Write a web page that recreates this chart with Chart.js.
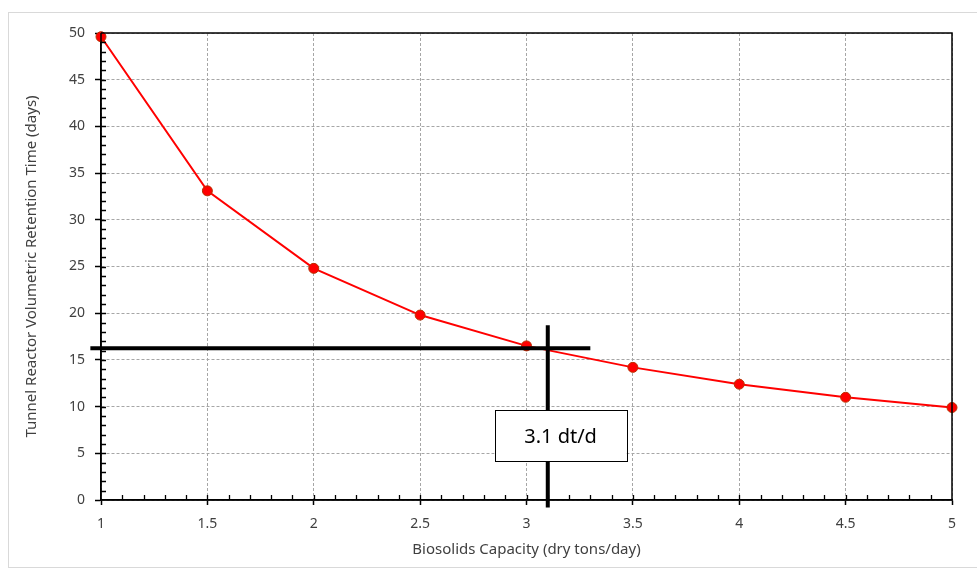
<!DOCTYPE html>
<html>
<head>
<meta charset="utf-8">
<script src="https://cdn.jsdelivr.net/npm/chart.js"></script>
<style>
  html, body { margin: 0; padding: 0; background: #fff; }
  #wrap { width: 977px; height: 573px; }
</style>
</head>
<body>
<div id="wrap"><canvas id="chart" width="977" height="573"></canvas></div>
<script>
// Data
const capacity = [1, 1.5, 2, 2.5, 3, 3.5, 4, 4.5, 5];
const retentionDays = [49.6, 33.1, 24.8, 19.8, 16.5, 14.2, 12.4, 11.0, 9.9];

// marker lines and label box (in data units)
const hLineY = 16.25;
const hLineX = [0.95, 3.3];
const vLineX = 3.1;
const vLineY = [18.7, -0.8];
const boxX = [2.85, 3.47];
const boxY = [9.6, 4.1];
const boxLabel = '3.1 dt/d';

const FONT = "'Noto Sans', 'Open Sans', sans-serif";
const TEXT = '#404040';

// outer frame, axis lines, minor ticks, marker lines
const decorPlugin = {
    id: 'decor',
    beforeDraw(chart) {
        const ctx = chart.ctx;
        ctx.save();
        ctx.strokeStyle = '#d9d9d9';
        ctx.lineWidth = 1;
        ctx.strokeRect(8.5, 12.5, 975, 555);
        ctx.restore();
    },
    afterDatasetsDraw(chart) {
        const ctx = chart.ctx;
        const { left, right, top, bottom } = chart.chartArea;
        const x = chart.scales.x, y = chart.scales.y;
        ctx.save();
        ctx.strokeStyle = '#000';
        ctx.lineWidth = 1.5;
        ctx.setLineDash([]);
        ctx.beginPath();
        ctx.moveTo(left, top); ctx.lineTo(right, top); ctx.lineTo(right, bottom);
        ctx.lineTo(left, bottom); ctx.lineTo(left, top);
        ctx.stroke();

        // minor ticks on y (every 1) and x (every 0.1)
        ctx.lineWidth = 1.3;
        ctx.beginPath();
        for (let v = 1; v < 50; v++) {
            const py = Math.round(y.getPixelForValue(v)) + 0.5;
            ctx.moveTo(left, py); ctx.lineTo(left + 5, py);
        }
        for (let i = 11; i < 50; i++) {
            const px = Math.round(x.getPixelForValue(i / 10)) + 0.5;
            ctx.moveTo(px, bottom); ctx.lineTo(px, bottom - 5);
        }
        ctx.stroke();

        // marker lines
        ctx.lineWidth = 4;
        ctx.beginPath();
        ctx.moveTo(x.getPixelForValue(hLineX[0]), y.getPixelForValue(hLineY));
        ctx.lineTo(x.getPixelForValue(hLineX[1]), y.getPixelForValue(hLineY));
        ctx.moveTo(x.getPixelForValue(vLineX), y.getPixelForValue(vLineY[0]));
        ctx.lineTo(x.getPixelForValue(vLineX), y.getPixelForValue(vLineY[1]));
        ctx.stroke();

        // label box
        const bx0 = x.getPixelForValue(boxX[0]), bx1 = x.getPixelForValue(boxX[1]);
        const by0 = y.getPixelForValue(boxY[0]), by1 = y.getPixelForValue(boxY[1]);
        ctx.fillStyle = '#fff';
        ctx.fillRect(bx0, by0, bx1 - bx0, by1 - by0);
        ctx.lineWidth = 1;
        ctx.strokeRect(Math.round(bx0) + 0.5, Math.round(by0) + 0.5, Math.round(bx1 - bx0), Math.round(by1 - by0));
        ctx.fillStyle = '#000';
        ctx.font = "20px " + FONT;
        ctx.textAlign = 'center';
        ctx.textBaseline = 'middle';
        ctx.fillText(boxLabel, (bx0 + bx1) / 2, (by0 + by1) / 2 + 1);
        ctx.restore();
    }
};

const ctx = document.getElementById('chart').getContext('2d');
new Chart(ctx, {
    type: 'line',
    data: {
        datasets: [{
            data: capacity.map((c, i) => ({ x: c, y: retentionDays[i] })),
            borderColor: '#ff0000',
            borderWidth: 2,
            backgroundColor: '#ff0000',
            pointBackgroundColor: '#ff0000',
            pointBorderColor: '#b83000',
            pointBorderWidth: 1,
            pointRadius: 5,
            tension: 0,
            clip: false
        }]
    },
    options: {
        responsive: false,
        animation: false,
        events: [],
        layout: { padding: { left: 8, top: 33, right: 25, bottom: 6 } },
        plugins: { legend: { display: false }, tooltip: { enabled: false } },
        scales: {
            x: {
                type: 'linear',
                min: 1, max: 5,
                afterFit: s => { s.height = 67; },
                ticks: {
                    stepSize: 0.5,
                    color: TEXT,
                    font: { family: FONT, size: 14 },
                    padding: 11,
                    maxRotation: 0,
                    callback: v => String(v)
                },
                grid: {
                    color: '#a6a6a6',
                    lineWidth: 1,
                    tickLength: 5,
                    tickColor: '#000',
                    tickBorderDash: [],
                    tickWidth: 1.5
                },
                border: { display: true, color: '#000', width: 1.5, dash: [3, 2] },
                title: {
                    display: true,
                    text: 'Biosolids Capacity (dry tons/day)',
                    color: TEXT,
                    font: { family: FONT, size: 15 },
                    padding: { top: 0, bottom: 8 }
                }
            },
            y: {
                min: 0, max: 50,
                afterFit: s => { s.width = 93; },
                ticks: {
                    stepSize: 5,
                    color: TEXT,
                    font: { family: FONT, size: 14 },
                    padding: 10
                },
                grid: {
                    color: '#a6a6a6',
                    lineWidth: 1,
                    tickLength: 6,
                    tickColor: '#000',
                    tickBorderDash: [],
                    tickWidth: 1.5
                },
                border: { display: true, color: '#000', width: 1.5, dash: [3, 2] },
                title: {
                    display: true,
                    text: 'Tunnel Reactor Volumetric Retention Time (days)',
                    color: TEXT,
                    font: { family: FONT, size: 15 },
                    padding: { top: 15, bottom: 0 }
                }
            }
        }
    },
    plugins: [decorPlugin]
});
</script>
</body>
</html>
